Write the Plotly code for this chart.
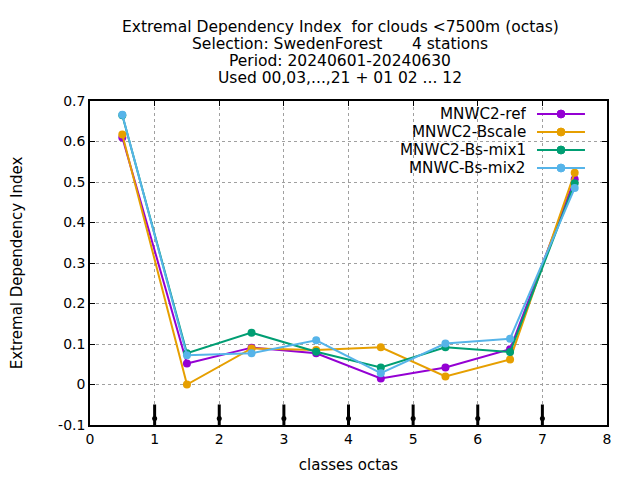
import plotly.graph_objects as go

classes = [0.5, 1.5, 2.5, 3.5, 4.5, 5.5, 6.5, 7.5]

mnwc2_ref = [0.610, 0.052, 0.091, 0.077, 0.015, 0.042, 0.087, 0.507]
mnwc2_bscale = [0.617, 0.000, 0.089, 0.085, 0.092, 0.020, 0.062, 0.523]
mnwc2_bs_mix1 = [0.665, 0.077, 0.128, 0.081, 0.042, 0.092, 0.080, 0.497]
mnwc_bs_mix2 = [0.666, 0.072, 0.077, 0.109, 0.028, 0.101, 0.113, 0.485]

series = [
    ('MNWC2-ref', mnwc2_ref, '#9400D3'),
    ('MNWC2-Bscale', mnwc2_bscale, '#E69F00'),
    ('MNWC2-Bs-mix1', mnwc2_bs_mix1, '#009E73'),
    ('MNWC-Bs-mix2', mnwc_bs_mix2, '#56B4E9'),
]

x_ticks = [0, 1, 2, 3, 4, 5, 6, 7, 8]
y_ticks = [-0.1, 0, 0.1, 0.2, 0.3, 0.4, 0.5, 0.6, 0.7]
y_labels = ['-0.1', '0', '0.1', '0.2', '0.3', '0.4', '0.5', '0.6', '0.7']

# black class-boundary marks drawn near the bottom
bound_x = [1, 2, 3, 4, 5, 6, 7]
bound_y = [-0.077] * len(bound_x)
bound_dot_y = [-0.084] * len(bound_x)

title_lines = [
    'Extremal Dependency Index\u00a0\u00a0for clouds <7500m (octas)',
    'Selection: SwedenForest\u00a0\u00a0\u00a0\u00a0\u00a0\u00a04 stations',
    'Period: 20240601-20240630',
    'Used 00,03,...,21 + 01 02 ... 12',
]

fig = go.Figure()
for name, vals, color in series:
    fig.add_trace(go.Scatter(
        x=classes, y=vals, name=name, mode='lines+markers',
        line=dict(color=color, width=2),
        marker=dict(color=color, size=8, symbol='circle'),
    ))

fig.add_trace(go.Scatter(
    x=bound_x, y=bound_y, mode='markers', hoverinfo='skip',
    marker=dict(symbol='line-ns', size=16, line=dict(color='black', width=3)),
))
fig.add_trace(go.Scatter(
    x=bound_x, y=bound_dot_y, mode='markers', hoverinfo='skip',
    marker=dict(symbol='circle', size=5, color='black'),
))

# hand-made legend: right aligned text, sample on the right (gnuplot style)
annotations = []
shapes = []
for i, (name, vals, color) in enumerate(series):
    ly = 1 - (13 + 18 * i) / 324
    annotations.append(dict(
        text=name, xref='paper', yref='paper', x=0.845, y=ly,
        xanchor='right', yanchor='middle', showarrow=False,
        height=16, valign='middle', borderpad=0,
        font=dict(size=15.2)))
    shapes.append(dict(
        type='line', xref='paper', yref='paper', x0=0.8646, x1=0.9574,
        y0=ly, y1=ly, line=dict(color=color, width=2)))
    shapes.append(dict(
        type='circle', xref='paper', yref='paper', xsizemode='pixel',
        ysizemode='pixel', xanchor=0.911, yanchor=ly, x0=-4, x1=4,
        y0=-4, y1=4, fillcolor=color, line=dict(color=color, width=1)))

title_shift = [75, 58, 41, 24]
for line, shift in zip(title_lines, title_shift):
    annotations.append(dict(
        text=line, xref='paper', yref='paper', x=0.4836, y=1.0,
        yshift=shift, xanchor='center', yanchor='middle',
        height=17, borderpad=0, showarrow=False, font=dict(size=15.5)))

grid = dict(showgrid=True, gridcolor='#a0a0a0', griddash='dot', gridwidth=1)

fig.update_layout(
    width=640, height=480,
    margin=dict(l=82, r=41, t=93, b=63, autoexpand=False),
    plot_bgcolor='white', paper_bgcolor='white',
    font=dict(family='DejaVu Sans', size=14, color='black'),
    showlegend=False,
    annotations=annotations,
    shapes=shapes,
    xaxis=dict(
        range=[x_ticks[0], x_ticks[-1]], tickvals=x_ticks,
        title=dict(text='classes octas', standoff=14, font=dict(size=15)),
        showline=True, linecolor='black', linewidth=1.5, mirror='ticks',
        ticks='inside', ticklen=5, tickwidth=1, tickcolor='black',
        zeroline=False, automargin=False, **grid,
    ),
    yaxis=dict(
        range=[y_ticks[0], y_ticks[-1]], tickvals=y_ticks, ticktext=y_labels,
        title=dict(text='Extremal Dependency Index', standoff=34,
                   font=dict(size=15)),
        showline=True, linecolor='black', linewidth=1.5, mirror='ticks',
        ticks='inside', ticklen=5, tickcolor='black', zeroline=False,
        automargin=False, **grid,
    ),
)

fig.write_html('out.html')
